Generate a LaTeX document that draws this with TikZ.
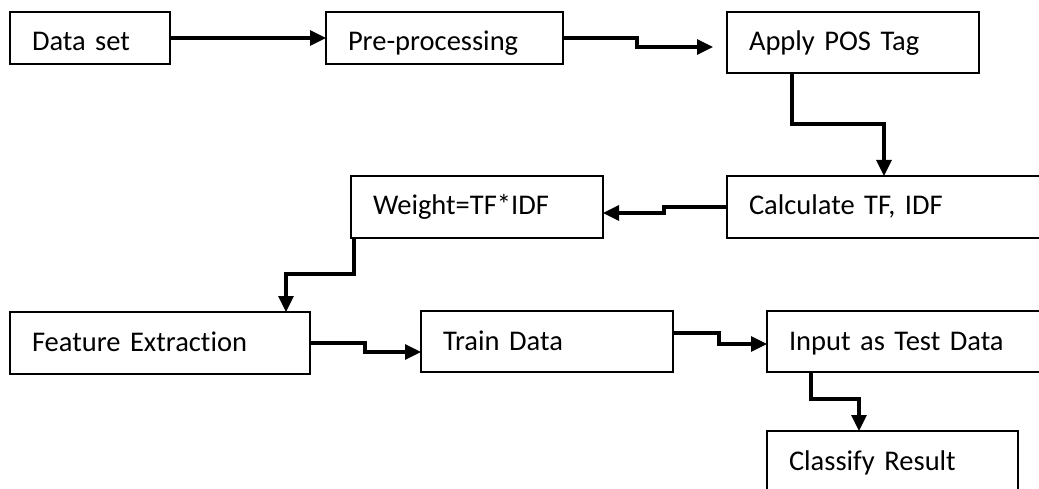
\documentclass[tikz,border=0pt]{standalone}
\usepackage{fontspec}
\setmainfont{Carlito}[Ligatures=NoCommon]
\usetikzlibrary{arrows.meta,positioning}

\begin{document}
\begin{tikzpicture}[x=1pt,y=-1pt,
  box/.style={draw, line width=2.1pt, anchor=north west, outer sep=0pt,
    inner xsep=22pt, inner ysep=0pt, text height=39pt, align=left,
    font=\fontsize{28.5}{34}\selectfont},
  flow/.style={draw, line width=3.2pt, -{Triangle[length=16pt,width=15pt]}}]
  \path[use as bounding box, clip] (0,0) rectangle (1039,489);

  \node[box, text width=116pt, text depth=13pt] (dataset) at (10,12) {Data set};
  \node[box, text width=193pt, text depth=13pt] (preprocessing) at (326,12) {Pre-processing};
  \node[box, text width=208pt, text depth=22pt] (postag) at (727,12) {Apply POS Tag};
  \node[box, text width=289pt, text depth=23pt] (calculate) at (727,176) {Calculate TF, IDF};
  \node[box, text width=208pt, text depth=23pt] (weight) at (351,176) {Weight=TF*IDF};
  \node[box, text width=256pt, text depth=23pt] (feature) at (10,312) {Feature Extraction};
  \node[box, text width=208pt, text depth=22pt] (train) at (421,311) {Train Data};
  \node[box, text width=249pt, text depth=22pt] (testdata) at (767,311) {Input as Test Data};
  \node[box, text width=207pt, text depth=22pt] (classify) at (767,431) {Classify Result};

  \draw[flow] (dataset) -- (preprocessing);
  \draw[flow, shorten >=14pt] (preprocessing.east) -| (637,47) -- (postag.west |- 0,47);
  \draw[flow] (postag.south -| 792,0) |- (884,124) -- (calculate.north -| 884,0);
  \draw[flow] (calculate.west) -| (664,213) -- (weight.east |- 0,213);
  \draw[flow] (weight.south -| 354,0) |- (286,274) -- (feature.north -| 286,0);
  \draw[flow] (feature.east) -| (365,352) -- (train.west |- 0,352);
  \draw[flow] (train.east |- 0,333) -| (719,344) -- (testdata.west |- 0,344);
  \draw[flow] (testdata.south -| 811,0) |- (859,399) -- (classify.north -| 859,0);

\end{tikzpicture}
\end{document}
